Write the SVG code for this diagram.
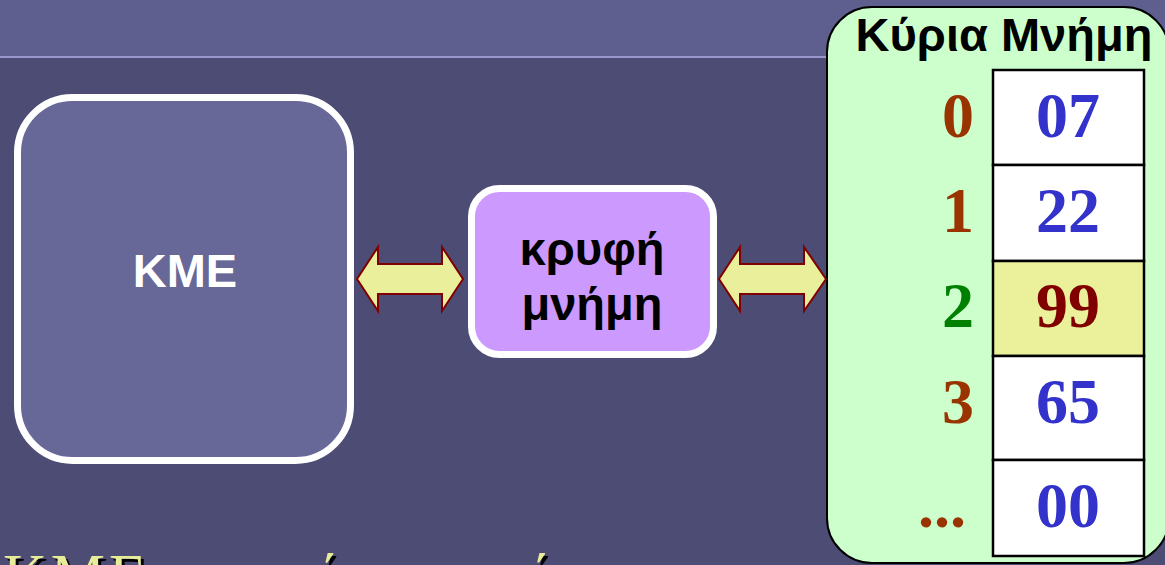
<svg xmlns="http://www.w3.org/2000/svg" width="1165" height="565" viewBox="0 0 1165 565">
<style>
.sans{font-family:"Liberation Sans",Arial,sans-serif;font-weight:bold}
.serif{font-family:"Liberation Serif","Times New Roman",serif;font-weight:bold}
.arrow{fill:#E9EF9A;stroke:#800000;stroke-width:2;stroke-linejoin:miter}
.cell{fill:#FFFFFF;stroke:#000000;stroke-width:2.5}
.val{font-size:64px;fill:#3333CC;text-anchor:middle}
.addr{font-size:64px;fill:#993300;text-anchor:middle}
.cap{font-family:"Liberation Serif","Times New Roman",serif;font-size:61px}
</style>
<rect x="0" y="0" width="1165" height="565" fill="#4D4C75"/>
<rect x="0" y="0" width="1165" height="56" fill="#5E5E8F"/>
<rect x="0" y="56" width="1165" height="2" fill="#9A96CE"/>

<g id="cpu">
<rect x="17.5" y="97.5" width="333" height="363" rx="55" fill="#676798" stroke="#FFFFFF" stroke-width="7"/>
<text class="sans" x="185" y="287" font-size="47" fill="#FFFFFF" text-anchor="middle">KME</text>
</g>

<g id="cache">
<rect x="471.5" y="188.5" width="242" height="166" rx="28" fill="#CC99FF" stroke="#FFFFFF" stroke-width="7"/>
<text class="sans" x="592" y="265" font-size="47" fill="#000000" text-anchor="middle">κρυφή</text>
<text class="sans" x="592" y="320" font-size="47" fill="#000000" text-anchor="middle">μνήμη</text>
</g>

<g id="main-memory">
<rect x="827" y="7" width="342" height="556" rx="45" fill="#CCFFCC" stroke="#000000" stroke-width="2"/>
<text class="sans" x="1004" y="51" font-size="47" fill="#000000" text-anchor="middle">Κύρια Μνήμη</text>
<rect class="cell" x="993" y="70" width="151" height="95"/>
<rect class="cell" x="993" y="165" width="151" height="96"/>
<rect class="cell" x="993" y="261" width="151" height="95" style="fill:#EBF09B"/>
<rect class="cell" x="993" y="356" width="151" height="104"/>
<rect class="cell" x="993" y="460" width="151" height="96"/>
<text class="serif val" x="1068" y="137">07</text>
<text class="serif val" x="1068" y="232">22</text>
<text class="serif val" x="1068" y="327" style="fill:#800000">99</text>
<text class="serif val" x="1068" y="423">65</text>
<text class="serif val" x="1068" y="527">00</text>
<text class="serif addr" x="958" y="137">0</text>
<text class="serif addr" x="958" y="232">1</text>
<text class="serif addr" x="958" y="327" style="fill:#008000">2</text>
<text class="serif addr" x="958" y="423">3</text>
<text class="serif addr" x="942" y="527">...</text>
</g>

<g id="connectors">
<polygon class="arrow" points="357,279 378,247 378,264 442,264 442,247 463,279 442,311 442,294 378,294 378,311"/>
<polygon class="arrow" points="719,279 740,247 740,264 804,264 804,247 826,279 804,311 804,294 740,294 740,311"/>
</g>

<g id="caption">
<text class="cap" x="6" y="599" fill="#000000" textLength="625" lengthAdjust="spacing">ΚΜΕ και κύρια μνήμη</text>
<text class="cap" x="3" y="596" fill="#E8EC98" textLength="625" lengthAdjust="spacing">ΚΜΕ και κύρια μνήμη</text>
</g>
</svg>
